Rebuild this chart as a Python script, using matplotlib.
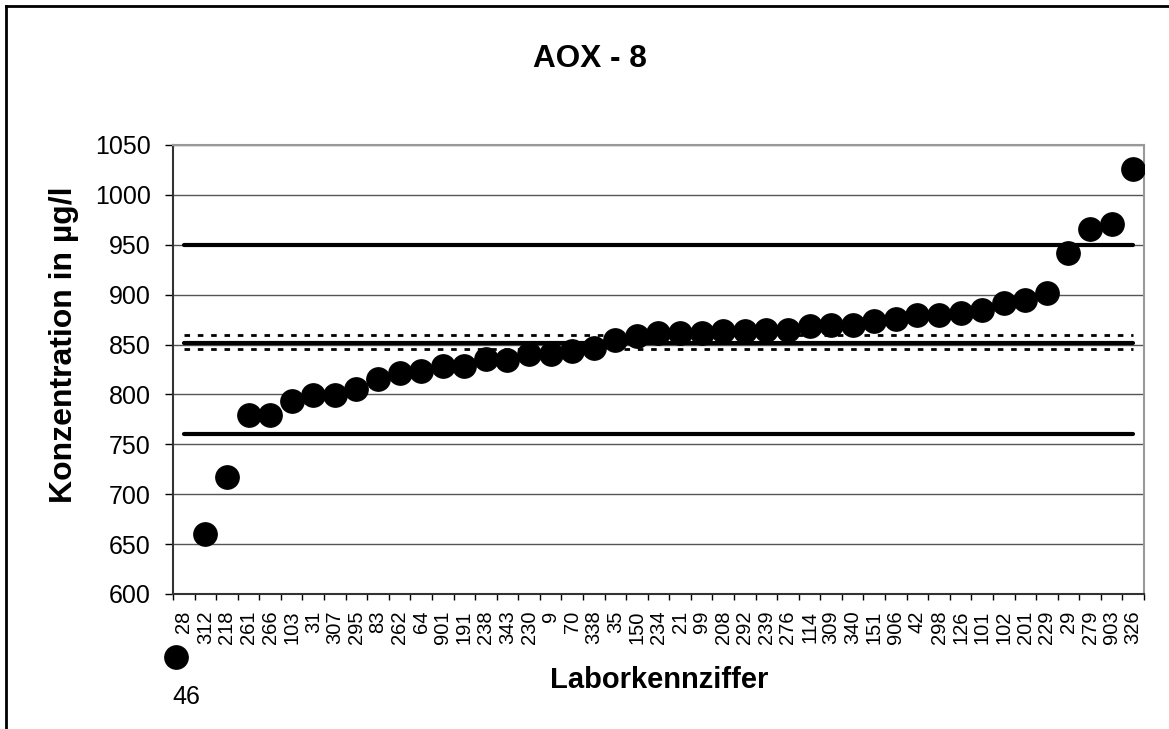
import matplotlib.pyplot as plt
import matplotlib
from matplotlib.lines import Line2D
import numpy as np

matplotlib.rcParams['font.family'] = ['Liberation Sans', 'DejaVu Sans']

# AOX - 8, Laborwerte sortiert
labs = ['28', '312', '218', '261', '266', '103', '31', '307', '295', '83',
        '262', '64', '901', '191', '238', '343', '230', '9', '70', '338',
        '35', '150', '234', '21', '99', '208', '292', '239', '276', '114',
        '309', '340', '151', '906', '42', '298', '126', '101', '102', '201',
        '229', '29', '279', '903', '326']
values = [46, 660, 717, 779, 779, 793, 799, 799, 805, 815,
          821, 823, 829, 829, 836, 835, 841, 841, 844, 847,
          855, 859, 862, 862, 862, 864, 864, 865, 865, 869,
          870, 870, 874, 876, 880, 880, 882, 885, 892, 895,
          902, 942, 966, 971, 1026]

mean_val = 852
ci_low, ci_high = 846, 860
tol_low, tol_high = 760, 950

ymin, ymax = 600, 1050

fig = plt.figure(figsize=(11.69, 7.29), dpi=100)
ax = fig.add_axes([0.148, 0.1852, 0.8306, 0.6159])

x = np.arange(len(labs))
n = len(labs)

# Grenzlinien
ax.plot(x, [tol_high] * n, color='black', lw=3, solid_capstyle='round', zorder=3)
ax.plot(x, [tol_low] * n, color='black', lw=3, solid_capstyle='round', zorder=3)
ax.plot(x, [mean_val] * n, color='black', lw=3, solid_capstyle='round', zorder=3)
ax.plot(x, [ci_high] * n, color='black', lw=2, dashes=(2, 2.8), zorder=3)
ax.plot(x, [ci_low] * n, color='black', lw=2, dashes=(2, 2.8), zorder=3)

# Messwerte innerhalb der Achse
vals = np.array(values, dtype=float)
inside = vals >= ymin
ax.plot(x[inside], vals[inside], 'o', color='black', ms=16.8, zorder=4)

# Werte unterhalb der Skala: Punkt unter der Achse mit Wertangabe
for xi, v in zip(x[~inside], vals[~inside]):
    ax.plot(xi - 0.36, ymin - 63, 'o', color='black', ms=16.8, clip_on=False, zorder=4)
    ax.text(xi + 0.1, ymin - 103, '%d' % v, fontsize=18, ha='center', va='center',
            clip_on=False)

ax.set_xlim(-0.5, n - 0.5)
ax.set_ylim(ymin, ymax)
ax.set_yticks(np.arange(600, 1051, 50))
ax.yaxis.grid(True, color='#555555', lw=1)
ax.set_axisbelow(True)

ax.set_xticks(x)
ax.set_xticklabels(labs, rotation=90, fontsize=14.5)
ax.set_xticks(np.arange(-0.5, n, 1), minor=True)
ax.tick_params(axis='x', which='major', length=0, pad=12)
ax.tick_params(axis='x', which='minor', length=4, width=1, direction='out')
ax.tick_params(axis='y', labelsize=18, length=6, width=1, pad=10)

for side in ['left', 'bottom']:
    ax.spines[side].set_color('#333333')
    ax.spines[side].set_linewidth(1.5)
for side in ['top', 'right']:
    ax.spines[side].set_color('#999999')
    ax.spines[side].set_linewidth(1.5)

fig.text(0.055, 0.527, 'Konzentration in µg/l', fontsize=23, fontweight='bold',
         rotation=90, ha='center', va='center')
fig.text(0.564, 0.067, 'Laborkennziffer', fontsize=21, fontweight='bold',
         ha='center', va='center')
fig.text(0.505, 0.919, 'AOX - 8', fontsize=22.7, fontweight='bold',
         ha='center', va='center')

# Rahmen des Diagrammbereichs (links und oben sichtbar)
fig.add_artist(Line2D([5.5 / 1169, 5.5 / 1169], [0, 1 - 5.8 / 729],
                      transform=fig.transFigure, color='black', lw=2))
fig.add_artist(Line2D([5.5 / 1169, 1], [1 - 5.8 / 729, 1 - 5.8 / 729],
                      transform=fig.transFigure, color='black', lw=2))

fig.savefig('out.png', dpi=100)
